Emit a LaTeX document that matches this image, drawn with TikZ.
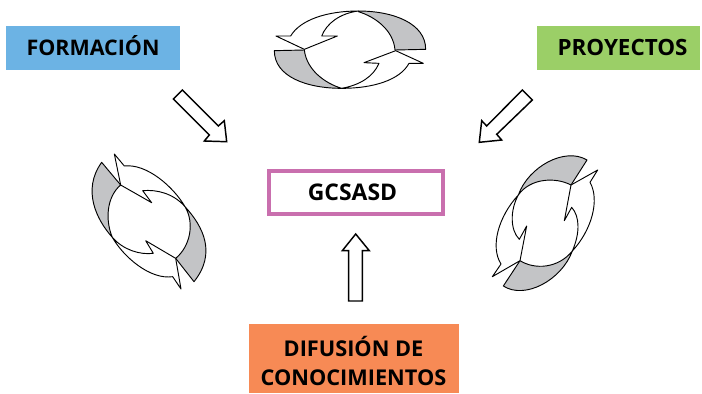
\documentclass[tikz,border=0pt]{standalone}
\usepackage{fontspec}
\setmainfont{Open Sans}
\definecolor{blueb}{HTML}{6CB3E4}
\definecolor{greenb}{HTML}{9BCF67}
\definecolor{orangeb}{HTML}{F78A55}
\definecolor{pinkb}{HTML}{C96FAE}
\definecolor{cyc}{HTML}{C3C4C6}
\tikzset{
  lab/.style={font=\fontsize{#1}{21.75}\selectfont\bfseries,align=center,text=black,inner sep=0pt,anchor=center},
  grayp/.style={draw=black,fill=cyc,line width=0.7pt,line join=round},
  whitep/.style={draw=black,fill=white,line width=0.7pt,line join=round},
  blockarrow/.style={draw=black,fill=white,line width=1.1pt,line join=miter},
}
\begin{document}
\begin{tikzpicture}[x=0.75pt,y=-0.75pt]
\useasboundingbox (0,0) rectangle (702,393);
% boxes
\fill[blueb] (6,26) rectangle (180,70);
\fill[greenb] (537,26) rectangle (700,70);
\fill[orangeb] (249,324) rectangle (459,393);
\draw[pinkb,line width=2.8pt,fill=white] (269,171) rectangle (443,214);
\node[lab=16.1] (form) at (93,46) {FORMACIÓN};
\node[lab=16.8] (proy) at (622.5,47) {PROYECTOS};
\node[lab=17.2] (gcs) at (352.5,192) {GCSASD};
\node[lab=16.3] (dif) at (353.5,360.5) {DIFUSIÓN DE\\CONOCIMIENTOS};
% block arrows
\draw[blockarrow] (182.3,90) -- (173.3,99) -- (209.3,135) -- (204.3,141) -- (226.7,141.7) -- (224.3,120.7) -- (218.3,126) -- cycle;
\draw[blockarrow] (522.3,90) -- (532.3,100) -- (496.7,134.3) -- (501.7,140) -- (479.3,142.3) -- (481.7,120.7) -- (486.7,126) -- cycle;
\draw[blockarrow] (355.7,234) -- (369.3,250.7) -- (362.3,250.7) -- (362.3,301) -- (348.7,301) -- (348.7,250.7) -- (342.3,250.7) -- cycle;
% top cycle
\begin{scope}[shift={(260,0)},x=0.25pt,y=-0.25pt]
\draw[grayp] (295,33) .. controls (400,33) and (497,70) .. (497,148) -- (405,150) .. controls (400,90) and (345,50) .. (295,35) -- cycle;
\draw[whitep] (133,148) -- (48,108) -- (92,108) .. controls (120,60) and (200,33) .. (295,33) .. controls (240,40) and (200,70) .. (185,108) -- (232,108) -- cycle;
\draw[grayp] (43,152) -- (133,150) .. controls (140,210) and (195,250) .. (245,265) .. controls (140,265) and (43,230) .. (43,152) -- cycle;
\draw[whitep] (245,265) .. controls (340,265) and (420,240) .. (447,190) -- (490,190) -- (407,152) -- (312,188) -- (357,190) .. controls (340,230) and (300,255) .. (245,265) -- cycle;
\end{scope}
% left cycle
\begin{scope}[shift={(80,150)},x=0.25pt,y=-0.25pt]
\draw[grayp] (65,37) -- (122,105) .. controls (80,140) and (75,210) .. (97,262) .. controls (50,210) and (5,120) .. (65,37) -- cycle;
\draw[whitep] (122,105) -- (103,12) -- (133,48) .. controls (200,40) and (280,110) .. (315,170) .. controls (280,130) and (230,118) .. (188,122) -- (215,158) -- cycle;
\draw[grayp] (342,395) -- (287,325) .. controls (330,290) and (345,220) .. (315,170) .. controls (370,230) and (410,310) .. (342,395) -- cycle;
\draw[whitep] (287,325) -- (303,417) -- (278,380) .. controls (210,390) and (130,320) .. (97,262) .. controls (130,300) and (180,315) .. (220,310) -- (197,272) -- cycle;
\end{scope}
% right cycle
\begin{scope}[shift={(485,150)},x=0.25pt,y=-0.25pt]
\draw[grayp] (306,30) -- (258,105) .. controls (210,80) and (135,85) .. (100,135) .. controls (130,50) and (240,-10) .. (306,30) -- cycle;
\draw[whitep] (258,105) -- (338,60) -- (315,97) .. controls (345,150) and (320,240) .. (262,303) .. controls (285,250) and (285,200) .. (260,172) -- (238,212) -- cycle;
\draw[grayp] (55,408) -- (105,332) .. controls (150,360) and (220,355) .. (262,303) .. controls (230,390) and (120,450) .. (55,408) -- cycle;
\draw[whitep] (105,332) -- (22,380) -- (48,342) .. controls (15,290) and (40,200) .. (100,135) .. controls (75,180) and (75,240) .. (103,268) -- (125,228) -- cycle;
\end{scope}
\end{tikzpicture}
\end{document}
